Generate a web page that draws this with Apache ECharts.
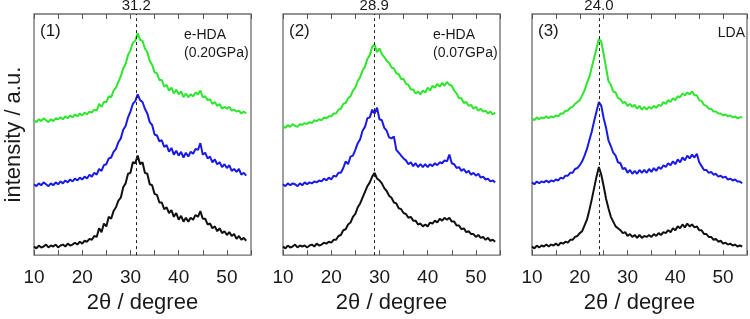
<!DOCTYPE html>
<html>
<head>
    <meta charset="UTF-8">
    <title></title>
    <script type="text/javascript" src="https://cdn.jsdelivr.net/npm/echarts@6/dist/echarts.min.js"></script>
</head>
<style>
    *{
        padding: 0;
        margin: 0;
    }
    #main{
        height:319px;
        width:750px;
        background: #fff;
    }
</style>
<body>
<div id="main"></div>
<script>
// 2theta grid (degree), sampled every 0.5
var twoTheta = [10,10.5,11,11.5,12,12.5,13,13.5,14,14.5,
    15,15.5,16,16.5,17,17.5,18,18.5,19,19.5,
    20,20.5,21,21.5,22,22.5,23,23.5,24,24.5,
    25,25.5,26,26.5,27,27.5,28,28.5,29,29.5,
    30,30.5,31,31.5,32,32.5,33,33.5,34,34.5,
    35,35.5,36,36.5,37,37.5,38,38.5,39,39.5,
    40,40.5,41,41.5,42,42.5,43,43.5,44,44.5,
    45,45.5,46,46.5,47,47.5,48,48.5,49,49.5,
    50,50.5,51,51.5,52,52.5,53,53.5,54];

// panel (1) e-HDA 0.20GPa  (values already offset, a.u.)
var p1Black = [9,7,10,8,9,11,8,10,9,11,
    8,10,11,9,12,10,11,13,11,14,
    12,15,14,17,16,20,19,28,24,33,
    30,40,38,46,50,57,60,71,75,85,
    86,97,96,104,95,97,86,85,74,73,
    64,63,55,55,48,50,44,47,40,44,
    37,41,35,39,35,39,37,42,40,46,
    38,38,32,33,28,30,25,28,23,25,
    21,24,20,22,17,20,16,18,15];
var p1Blue = [74,72,75,73,76,74,72,75,73,76,
    74,77,75,78,76,79,77,80,78,81,
    79,82,80,84,82,86,84,90,88,94,
    95,101,102,108,111,118,122,131,135,144,
    150,158,161,168,162,160,153,148,139,136,
    126,125,119,120,113,115,108,112,105,109,
    104,108,102,107,103,108,106,111,110,117,
    105,107,101,103,97,100,95,97,92,95,
    91,94,88,90,87,90,84,86,83];
var p1Green = [141,139,142,140,143,141,139,142,140,143,
    142,144,142,145,143,146,144,147,145,148,
    146,149,147,150,149,152,151,158,155,160,
    160,166,165,172,175,181,187,195,200,209,
    214,222,224,232,225,224,216,212,203,199,
    191,190,183,183,176,178,172,175,169,173,
    168,171,165,169,165,168,166,170,168,172,
    165,166,162,163,158,160,156,158,153,155,
    153,155,151,152,150,151,148,150,148];

// panel (2) e-HDA 0.07GPa
var p2Black = [9,7,10,8,9,11,8,10,9,10,
    8,10,11,9,12,10,11,13,12,14,
    13,16,16,20,21,26,27,32,34,40,
    43,50,54,60,66,72,76,82,86,80,
    78,75,70,67,62,60,55,54,49,48,
    44,43,39,40,36,36,32,33,30,32,
    30,34,33,36,34,38,36,39,37,39,
    35,35,31,31,27,28,24,25,22,22,
    19,21,18,19,16,18,15,16,14];
var p2Blue = [74,72,75,73,75,74,72,75,73,76,
    74,76,75,77,76,78,77,80,78,81,
    79,83,82,86,86,91,98,95,103,104,
    110,117,121,130,134,143,144,152,148,154,
    142,141,133,130,123,122,124,110,107,104,
    101,99,95,97,93,96,92,95,92,95,
    92,95,93,96,94,97,96,99,98,105,
    96,95,91,92,88,90,86,88,84,86,
    83,85,81,82,79,80,77,78,76];
var p2Green = [135,133,136,134,137,135,134,137,136,138,
    137,139,138,141,140,142,141,144,143,145,
    145,148,148,152,153,158,159,164,166,172,
    175,182,186,193,197,205,209,218,220,212,
    216,210,207,203,201,196,195,190,189,184,
    184,179,178,173,173,169,171,168,172,170,
    175,172,177,175,179,176,180,177,181,178,
    177,172,169,164,164,159,160,156,157,153,
    155,151,153,150,151,148,150,147,149];

// panel (3) LDA
var p3Black = [9,7,10,8,10,9,11,9,11,10,
    12,10,13,12,14,13,16,16,19,20,
    23,25,31,37,47,58,70,82,92,84,
    72,59,49,40,35,30,28,26,23,24,
    20,22,19,21,18,21,18,20,19,21,
    19,22,20,23,21,24,23,26,24,28,
    26,30,28,32,29,33,30,32,29,30,
    26,26,22,22,19,19,16,17,14,15,
    12,13,11,12,10,11,9,10,9];
var p3Blue = [76,74,77,75,77,76,78,76,78,77,
    79,78,81,80,83,83,86,86,90,91,
    94,98,104,111,120,129,140,150,160,156,
    143,133,120,114,107,104,97,96,90,91,
    86,89,85,88,85,89,86,89,86,90,
    87,91,88,92,90,94,92,96,94,98,
    95,100,97,102,99,104,101,105,102,106,
    97,93,89,89,86,87,84,85,82,83,
    81,82,79,80,78,79,77,77,75];
var p3Green = [143,141,144,142,144,143,145,143,145,144,
    146,145,148,148,151,151,154,155,158,160,
    162,167,172,180,186,196,206,216,226,223,
    210,196,182,178,171,170,164,163,159,160,
    156,158,155,157,153,156,152,155,152,155,
    153,156,154,157,156,160,158,162,160,164,
    162,166,165,169,167,170,168,171,167,167,
    162,161,157,156,153,153,150,150,148,148,
    146,147,145,146,144,145,143,144,144];

var peakPos = [31.2, 28.9, 24.0];
var panelTags = ['(1)', '(2)', '(3)'];
var xTicks = [10, 20, 30, 40, 50];

var curves = [
    [p1Black, p1Blue, p1Green],
    [p2Black, p2Blue, p2Green],
    [p3Black, p3Blue, p3Green]
];
var curveColors = ['#111111', '#1a1ae8', '#2ee62e'];

function pairs(ys) {
    var out = [];
    for (var i = 0; i < ys.length; i++) {
        out.push([twoTheta[i], ys[i]]);
    }
    return out;
}

var gridLefts = [34, 283, 532];
var grids = [], xAxes = [], yAxes = [], series = [];

for (var p = 0; p < 3; p++) {
    grids.push({
        left: gridLefts[p], top: 14, width: 217, height: 252,
        show: true, borderColor: '#6e6e6e', borderWidth: 1.3
    });
}
// bottom axes
for (var p = 0; p < 3; p++) {
    xAxes.push({
        type: 'value', gridIndex: p, position: 'bottom',
        min: 10, max: 55, interval: 5,
        axisLine: {show: false},
        splitLine: {show: false},
        axisTick: {inside: true, length: 5, lineStyle: {color: '#555', width: 1}},
        axisLabel: {
            margin: 13, fontSize: 19, color: '#1a1a1a', fontFamily: 'Liberation Sans',
            formatter: function (v) { return xTicks.indexOf(v) >= 0 ? String(v) : ''; }
        },
        name: '2\u03b8 / degree', nameLocation: 'middle', nameGap: 22,
        nameTextStyle: {fontSize: 22, color: '#1a1a1a', fontFamily: 'Liberation Sans'}
    });
}
// top axes (ticks only)
for (var p = 0; p < 3; p++) {
    xAxes.push({
        type: 'value', gridIndex: p, position: 'top',
        min: 10, max: 55, interval: 5,
        axisLine: {show: false},
        splitLine: {show: false},
        axisTick: {inside: true, length: 5, lineStyle: {color: '#555', width: 1}},
        axisLabel: {show: false}
    });
}
for (var p = 0; p < 3; p++) {
    yAxes.push({
        type: 'value', gridIndex: p, min: 0, max: 252,
        axisLine: {show: false}, axisTick: {show: false},
        axisLabel: {show: false}, splitLine: {show: false},
        name: p === 0 ? 'intensity / a.u.' : '',
        nameLocation: 'middle', nameGap: 9, nameRotate: 90,
        nameTextStyle: {fontSize: 22, color: '#1a1a1a', fontFamily: 'Liberation Sans'}
    });
}

for (var p = 0; p < 3; p++) {
    for (var c = 0; c < 3; c++) {
        var s = {
            type: 'line', xAxisIndex: p, yAxisIndex: p,
            data: pairs(curves[p][c]),
            showSymbol: false, symbol: 'none',
            lineStyle: {color: curveColors[c], width: 2},
            animation: false, silent: true
        };
        if (c === 0) {
            s.markLine = {
                silent: true, symbol: 'none', animation: false,
                lineStyle: {color: '#222', type: [3, 3], width: 1},
                label: {
                    show: true, position: 'end', distance: 1,
                    fontSize: 15, color: '#1a1a1a', fontFamily: 'Liberation Sans',
                    formatter: peakPos[p].toFixed(1)
                },
                data: [{xAxis: peakPos[p]}]
            };
        }
        series.push(s);
    }
}

var textStyle = {fill: '#1a1a1a', fontFamily: 'Liberation Sans'};
var graphics = [];
for (var p = 0; p < 3; p++) {
    graphics.push({
        type: 'text', left: gridLefts[p] + 6, top: 23,
        style: Object.assign({text: panelTags[p], fontSize: 17}, textStyle)
    });
}
graphics.push({type: 'text', left: 184, top: 26,
    style: Object.assign({text: 'e-HDA\n(0.20GPa)', fontSize: 14, lineHeight: 18}, textStyle)});
graphics.push({type: 'text', left: 433, top: 26,
    style: Object.assign({text: 'e-HDA\n(0.07GPa)', fontSize: 14, lineHeight: 18}, textStyle)});
graphics.push({type: 'text', right: 5, top: 26,
    style: Object.assign({text: 'LDA', fontSize: 14}, textStyle)});

var myChart = echarts.init(document.getElementById('main'));
myChart.setOption({
    backgroundColor: '#fff',
    animation: false,
    grid: grids,
    xAxis: xAxes,
    yAxis: yAxes,
    graphic: graphics,
    series: series
});
</script>
</body>
</html>
